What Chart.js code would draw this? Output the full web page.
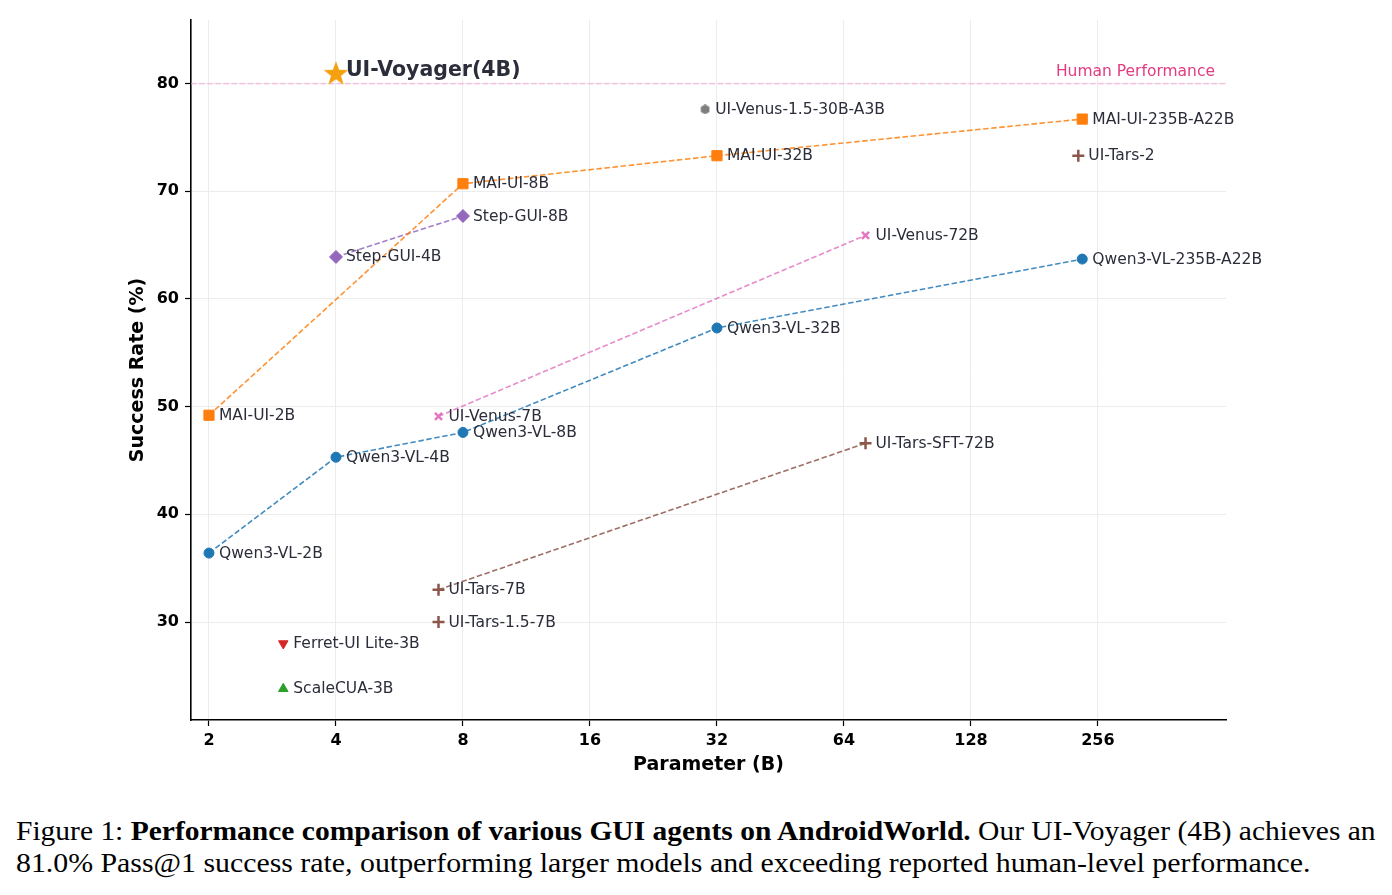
<!DOCTYPE html>
<html>
<head>
<meta charset="utf-8">
<script src="https://cdn.jsdelivr.net/npm/chart.js@4.4.1/dist/chart.umd.min.js"></script>
<style>
  body { margin: 0; background: #fff; width: 1392px; height: 895px; overflow: hidden; position: relative; }
  #chart { position: absolute; left: 0; top: 0; }
  .cap { position: absolute; left: 16px; font-family: "Liberation Serif", "Times New Roman", serif;
         font-size: 27px; color: #000; white-space: nowrap; line-height: 32px; transform-origin: 0 50%; }
  #cap1 { top: 815px; }
  #cap2 { top: 847px; }
</style>
</head>
<body>
<canvas id="chart" width="1392" height="790"></canvas>
<div class="cap" id="cap1">Figure 1: <b>Performance comparison of various GUI agents on AndroidWorld.</b> Our UI-Voyager (4B) achieves an</div>
<div class="cap" id="cap2">81.0% Pass@1 success rate, outperforming larger models and exceeding reported human-level performance.</div>
<script>
// ==================== DATA ====================
const xTicks = [2, 4, 8, 16, 32, 64, 128, 256];
const yTicks = [30, 40, 50, 60, 70, 80];
const humanScore = 80;

const qwenNames  = ['Qwen3-VL-2B', 'Qwen3-VL-4B', 'Qwen3-VL-8B', 'Qwen3-VL-32B', 'Qwen3-VL-235B-A22B'];
const qwenParams = [2, 4, 8, 32, 235];
const qwenScores = [36.4, 45.3, 47.6, 57.3, 63.7];

const maiNames  = ['MAI-UI-2B', 'MAI-UI-8B', 'MAI-UI-32B', 'MAI-UI-235B-A22B'];
const maiParams = [2, 8, 32, 235];
const maiScores = [49.2, 70.7, 73.3, 76.7];

const stepNames  = ['Step-GUI-4B', 'Step-GUI-8B'];
const stepParams = [4, 8];
const stepScores = [63.9, 67.7];

const venusNames  = ['UI-Venus-7B', 'UI-Venus-72B'];
const venusParams = [7, 72];
const venusScores = [49.1, 65.9];

const tarsNames  = ['UI-Tars-7B', 'UI-Tars-SFT-72B'];
const tarsParams = [7, 72];
const tarsScores = [33.0, 46.6];

const tarsSingleNames  = ['UI-Tars-1.5-7B', 'UI-Tars-2'];
const tarsSingleParams = [7, 230];
const tarsSingleScores = [30.0, 73.3];

const venus15Names = ['UI-Venus-1.5-30B-A3B'];
const venus15Params = [30];
const venus15Scores = [77.6];

const ferretNames = ['Ferret-UI Lite-3B'];
const ferretParams = [3];
const ferretScores = [28.0];

const scaleNames = ['ScaleCUA-3B'];
const scaleParams = [3];
const scaleScores = [23.8];

const voyagerNames = ['UI-Voyager(4B)'];
const voyagerParams = [4];
const voyagerScores = [81.0];

// ==================== HELPERS ====================
const pts = (xs, ys) => xs.map((x, i) => ({ x, y: ys[i] }));

function makeStar(size, color) {
  const c = document.createElement('canvas');
  c.width = c.height = size;
  const g = c.getContext('2d');
  g.fillStyle = color;
  g.beginPath();
  for (let k = 0; k < 10; k++) {
    const r = k % 2 ? size * 0.5 * 0.4 : size * 0.5;
    const a = -Math.PI / 2 + k * Math.PI / 5;
    g.lineTo(size / 2 + r * Math.cos(a), size / 2 + r * Math.sin(a) + size * 0.05);
  }
  g.closePath();
  g.fill();
  return c;
}

function makeHex(size, color) {
  const c = document.createElement('canvas');
  c.width = c.height = size;
  const g = c.getContext('2d');
  g.fillStyle = color;
  g.beginPath();
  for (let k = 0; k < 6; k++) {
    const a = -Math.PI / 2 + k * Math.PI / 3;
    g.lineTo(size / 2 + size / 2 * Math.cos(a), size / 2 + size / 2 * Math.sin(a));
  }
  g.closePath();
  g.fill();
  return c;
}

const DASH = [5.5, 2.6];

function series(names, xs, ys, color, lineColor, style, radius, extra) {
  return Object.assign({
    names,
    data: pts(xs, ys),
    showLine: true,
    borderColor: lineColor,
    borderWidth: 1.6,
    borderDash: DASH,
    pointStyle: style,
    pointRadius: radius,
    pointBackgroundColor: color,
    pointBorderColor: color,
    pointBorderWidth: 1
  }, extra || {});
}

// ==================== PLUGINS ====================
const humanLine = {
  id: 'humanLine',
  beforeDatasetsDraw(chart) {
    const { ctx, chartArea, scales } = chart;
    const y = scales.y.getPixelForValue(humanScore);
    ctx.save();
    ctx.strokeStyle = 'rgba(245, 165, 205, 0.55)';
    ctx.lineWidth = 1.8;
    ctx.setLineDash(DASH);
    ctx.beginPath();
    ctx.moveTo(chartArea.left, y);
    ctx.lineTo(chartArea.right, y);
    ctx.stroke();
    ctx.setLineDash([]);
    ctx.fillStyle = '#e33a80';
    ctx.font = '15.5px "DejaVu Sans"';
    ctx.textAlign = 'right';
    ctx.textBaseline = 'middle';
    ctx.fillText('Human Performance', chartArea.right - 11, y - 12);
    ctx.restore();
  }
};

const pointLabels = {
  id: 'pointLabels',
  afterDatasetsDraw(chart) {
    const ctx = chart.ctx;
    chart.data.datasets.forEach((ds, i) => {
      const meta = chart.getDatasetMeta(i);
      meta.data.forEach((pt, j) => {
        ctx.save();
        ctx.font = ds.labelFont || '15.5px "DejaVu Sans"';
        ctx.fillStyle = '#2b2d3a';
        ctx.textBaseline = 'middle';
        const dy = ds.labelDy !== undefined ? ds.labelDy : 0.5;
        ctx.fillText(ds.names[j], pt.x + (ds.labelGap || 10), pt.y + dy);
        ctx.restore();
      });
    });
  }
};

// ==================== CHART ====================
const blue = '#1f77b4', orange = '#ff7f0e', green = '#2ca02c', red = '#d62728',
      purple = '#9467bd', brown = '#8c564b', pink = '#e377c2', gray = '#7f7f7f';

const datasets = [
  series(qwenNames, qwenParams, qwenScores, blue, 'rgba(31,119,180,0.85)', 'circle', 5),
  series(maiNames, maiParams, maiScores, orange, 'rgba(255,127,14,0.85)', 'rect', 7.2),
  series(stepNames, stepParams, stepScores, purple, 'rgba(148,103,189,0.85)', 'rectRot', 6.5),
  series(venusNames, venusParams, venusScores, pink, 'rgba(227,119,194,0.85)', 'crossRot', 5, { pointBorderWidth: 2.5 }),
  series(tarsNames, tarsParams, tarsScores, brown, 'rgba(140,86,75,0.85)', 'cross', 6, { pointBorderWidth: 2.5 }),
  series(tarsSingleNames, tarsSingleParams, tarsSingleScores, brown, brown, 'cross', 6, { showLine: false, pointBorderWidth: 2.5 }),
  series(venus15Names, venus15Params, venus15Scores, gray, gray, makeHex(10, gray), 5, { showLine: false }),
  series(ferretNames, ferretParams, ferretScores, red, red, 'triangle', 5.5, { showLine: false, pointRotation: 180 }),
  series(scaleNames, scaleParams, scaleScores, green, green, 'triangle', 5.5, { showLine: false }),
  series(voyagerNames, voyagerParams, voyagerScores, '#f5a00f', '#f5a00f', makeStar(26, '#f5a00f'), 12,
    { showLine: false, labelFont: 'bold 20.5px "DejaVu Sans"', labelGap: 10, labelDy: -2 })
];

const tickFont = { family: 'DejaVu Sans', size: 16, weight: 'bold' };
const titleFont = { family: 'DejaVu Sans', size: 19, weight: 'bold' };

new Chart(document.getElementById('chart'), {
  type: 'scatter',
  data: { datasets },
  options: {
    responsive: false,
    animation: false,
    events: [],
    layout: { padding: { left: 123, right: 166, top: 20, bottom: 10 } },
    plugins: { legend: { display: false }, tooltip: { enabled: false } },
    scales: {
      x: {
        type: 'logarithmic',
        min: 1.813,
        max: 515,
        afterBuildTicks: s => { s.ticks = xTicks.map(v => ({ value: v })); },
        afterFit: s => { s.height = 60; },
        ticks: { color: '#000', font: tickFont, padding: 5, maxRotation: 0, callback: v => String(v) },
        grid: { color: '#ececec', lineWidth: 1, tickColor: '#000', tickLength: 6, tickWidth: 1.2 },
        border: { color: '#000', width: 1.6 },
        title: { display: true, text: 'Parameter (B)', color: '#000', font: titleFont }
      },
      y: {
        min: 20.9,
        max: 85.9,
        afterBuildTicks: s => { s.ticks = yTicks.map(v => ({ value: v })); },
        afterFit: s => { s.width = 68; },
        ticks: { color: '#000', font: tickFont, padding: 6 },
        grid: { color: '#ececec', lineWidth: 1, tickColor: '#000', tickLength: 6, tickWidth: 1.2 },
        border: { color: '#000', width: 1.6 },
        title: { display: true, text: 'Success Rate (%)', color: '#000', font: titleFont }
      }
    }
  },
  plugins: [humanLine, pointLabels]
});

// stretch the caption lines to the widths they have in the figure
[['cap1', 1360], ['cap2', 1294]].forEach(([id, w]) => {
  const el = document.getElementById(id);
  el.style.transform = 'scaleX(' + (w / el.scrollWidth) + ')';
});
</script>
</body>
</html>
